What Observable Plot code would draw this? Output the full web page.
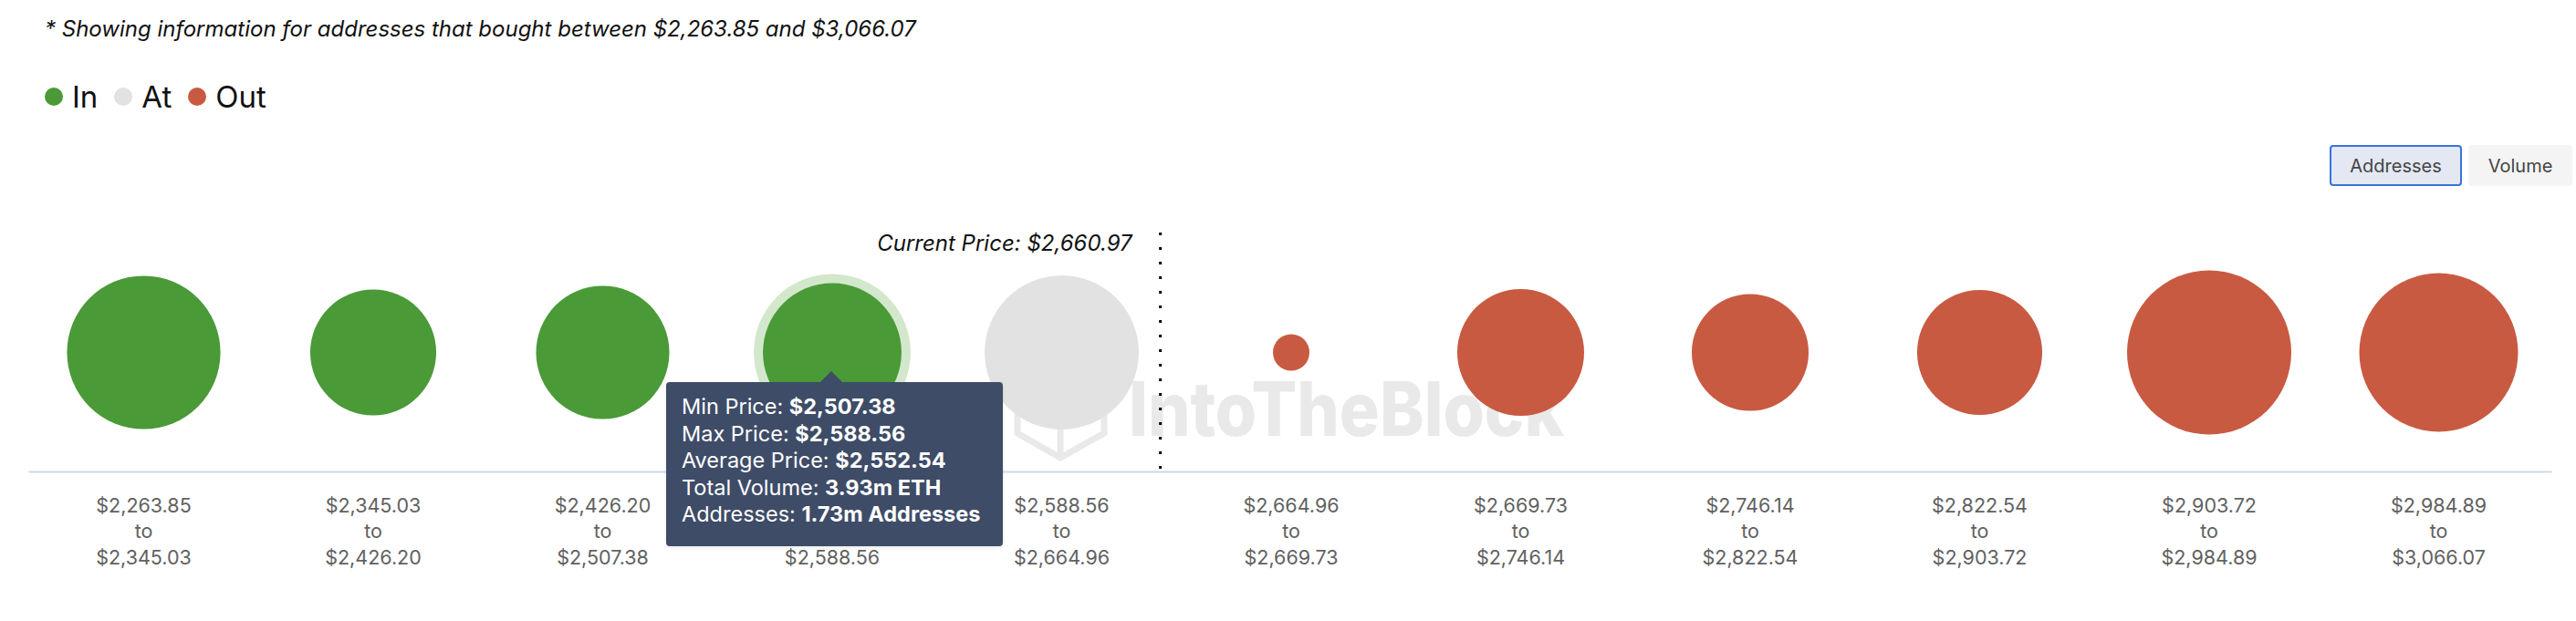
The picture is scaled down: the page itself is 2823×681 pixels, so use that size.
<!DOCTYPE html>
<html>
<head>
<meta charset="utf-8">
<script src="https://cdn.jsdelivr.net/npm/d3@7"></script>
<script src="https://cdn.jsdelivr.net/npm/@observablehq/plot@0.6"></script>
<style>
  html, body { margin: 0; padding: 0; background: #fff; }
  body { width: 2823px; height: 681px; position: relative; overflow: hidden; font-family: Inter, "Noto Sans", sans-serif; }
  .note { position: absolute; left: 49px; top: 17px; font-size: 24px; font-style: italic; color: #111; white-space: nowrap; }
  .legend { position: absolute; left: 49px; top: 86px; display: flex; align-items: center; font-size: 33px; color: #111; }
  .legend span.sw { display: inline-block; width: 20px; height: 20px; border-radius: 50%; margin-right: 10px; }
  .legend span.lab { margin-right: 18px; }
  .btn { position: absolute; top: 159px; height: 45px; box-sizing: border-box; border-radius: 4px; font-size: 20px; color: #444; display: flex; align-items: center; justify-content: center; }
  #chart { position: absolute; left: 0; top: 140px; }
  .wm { position: absolute; left: 1100px; top: 380px; }
  .tip { position: absolute; left: 730px; top: 419px; width: 369px; height: 180px; box-sizing: border-box; background: #3e4c67; border-radius: 4px; color: #fff; font-size: 23.5px; line-height: 29.5px; padding: 12px 0 0 17px; white-space: nowrap; box-shadow: 0 2px 4px rgba(0,0,0,0.08); }
  .tip b { font-weight: 700; }
  .tip::before { content: ""; position: absolute; left: 169px; top: -12px; border-left: 12px solid transparent; border-right: 12px solid transparent; border-bottom: 12px solid #3e4c67; }
</style>
</head>
<body>
<div class="note">* Showing information for addresses that bought between $2,263.85 and $3,066.07</div>
<div class="legend" id="legend"></div>
<div class="btn" style="left:2553px;width:145px;background:#e3e8f3;border:2px solid #3a72dc;">Addresses</div>
<div class="btn" style="left:2705px;width:114px;background:#f4f4f4;">Volume</div>
<svg class="wm" width="650" height="140">
  <g fill="none" stroke="#e9e9e9" stroke-width="7">
    <path d="M62,15 L110,40 L110,95 L62,122 L15,95 L15,40 Z"/>
    <path d="M15,40 L62,68 L110,40 M62,68 L62,122"/>
  </g>
  <text x="137" y="98" font-family="Inter, sans-serif" font-weight="800" font-size="82" fill="#e9e9e9" textLength="477" lengthAdjust="spacingAndGlyphs">IntoTheBlock</text>
</svg>
<div id="chart"></div>
<div class="tip">
  <div>Min Price: <b>$2,507.38</b></div>
  <div>Max Price: <b>$2,588.56</b></div>
  <div>Average Price: <b>$2,552.54</b></div>
  <div>Total Volume: <b>3.93m ETH</b></div>
  <div>Addresses: <b>1.73m Addresses</b></div>
</div>
<script>
// ---- data ----
const binLow  = [2263.85, 2345.03, 2426.20, 2507.38, 2588.56, 2664.96, 2669.73, 2746.14, 2822.54, 2903.72, 2984.89];
const binHigh = [2345.03, 2426.20, 2507.38, 2588.56, 2664.96, 2669.73, 2746.14, 2822.54, 2903.72, 2984.89, 3066.07];
const addressesM = [2.12, 1.43, 1.60, 1.73, 2.14, 0.12, 1.45, 1.23, 1.41, 2.43, 2.27];
const status = ["In", "In", "In", "In", "At", "Out", "Out", "Out", "Out", "Out", "Out"];
const statusNames = ["In", "At", "Out"];
const statusColors = ["#4a9a38", "#e2e2e2", "#c95a42"];
const highlighted = 3;
const currentPrice = 2660.97;
const currentPriceSlot = 4.43;

// ---- legend ----
const lg = document.getElementById("legend");
statusNames.forEach((n, i) => {
  const s = document.createElement("span"); s.className = "sw"; s.style.background = statusColors[i]; lg.appendChild(s);
  const t = document.createElement("span"); t.className = "lab"; t.textContent = n; lg.appendChild(t);
});

const fmt = d3.format("$,.2f");
const bins = binLow.map((lo, i) => ({
  i, lo, hi: binHigh[i], addr: addressesM[i], status: status[i],
  label: `${fmt(lo)}\nto\n${fmt(binHigh[i])}`
}));

const chart = Plot.plot({
  width: 2823,
  height: 541,
  marginTop: 115,
  marginBottom: 164,
  marginLeft: 32,
  marginRight: 28,
  style: { background: "transparent", fontFamily: "Inter, 'Noto Sans', sans-serif" },
  x: { type: "linear", domain: [0, 10], range: [157, 2672], axis: null },
  r: { type: "sqrt", domain: [0, d3.max(addressesM)], range: [0, 90] },
  color: { domain: statusNames, range: statusColors },
  marks: [
    Plot.frame({ anchor: "bottom", stroke: "#cfd7e8", strokeWidth: 2 }),
    Plot.dot(bins.filter(d => d.i === highlighted), { x: "i", r: "addr", frameAnchor: "middle", fill: "none", stroke: "#d3e7cc", strokeWidth: 20 }),
    Plot.dot(bins, { x: "i", r: "addr", fill: "status", frameAnchor: "middle" }),
    Plot.ruleX([currentPriceSlot], { stroke: "#000", strokeWidth: 3, strokeDasharray: "3,13" }),
    Plot.text([currentPriceSlot], { x: d => d, text: () => `Current Price: ${fmt(currentPrice)}`, frameAnchor: "top", textAnchor: "end", lineAnchor: "middle", dx: -31, dy: 12, fontSize: 24, fontStyle: "italic", fill: "#111" }),
    Plot.text(bins, { x: "i", text: "label", frameAnchor: "bottom", lineAnchor: "top", dy: 24, lineHeight: 1.33, fontSize: 21.5, fill: "#616161" })
  ]
});
document.getElementById("chart").appendChild(chart);
</script>
</body>
</html>
